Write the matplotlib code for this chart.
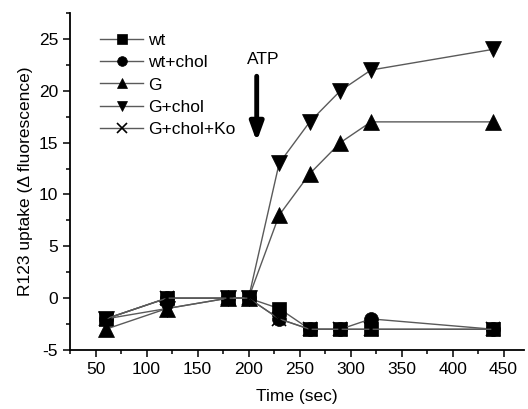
import matplotlib
matplotlib.use("Agg")
import matplotlib.pyplot as plt
from matplotlib.ticker import MultipleLocator

plt.rcParams['font.family'] = ['Liberation Sans', 'DejaVu Sans']
plt.rcParams['axes.unicode_minus'] = False

time = [60, 120, 180, 200, 230, 260, 290, 320, 440]
wt = [-2, 0, 0, 0, -1, -3, -3, -3, -3]
wt_chol = [-2, 0, 0, 0, -2, -3, -3, -2, -3]
g = [-3, -1, 0, 0, 8, 12, 15, 17, 17]
g_chol = [-2, -1, 0, 0, 13, 17, 20, 22, 24]
g_chol_ko = [-2, 0, 0, 0, -2, -3, -3, -3, -3]

labels = ["wt", "wt+chol", "G", "G+chol", "G+chol+Ko"]
series = [wt, wt_chol, g, g_chol, g_chol_ko]
markers = ["s", "o", "^", "v", "x"]
sizes = [10, 10, 11, 11, 10]

FS = 12.5
fig = plt.figure(figsize=(5.28, 4.09), dpi=100)
ax = fig.add_axes([70/528, 1-350/409, (524-70)/528, (350-13)/409])

for lab, ys, m, ms in zip(labels, series, markers, sizes):
    ax.plot(time, ys, color="#5a5a5a", lw=1.0, marker=m, ms=ms,
            mfc="black", mec="black", mew=1.2 if m == "x" else 0.5, label=lab)

ax.set_xlim(25, 470)
ax.set_ylim(-5, 27.5)
ax.set_xticks(range(50, 451, 50))
ax.xaxis.set_minor_locator(MultipleLocator(25))
ax.yaxis.set_major_locator(MultipleLocator(5))
ax.yaxis.set_minor_locator(MultipleLocator(2.5))
ax.tick_params(direction="out", which="major", length=5, width=1.1, labelsize=FS)
ax.tick_params(direction="out", which="minor", length=3, width=1.1)
for s in ["top", "right"]:
    ax.spines[s].set_visible(False)
for s in ["left", "bottom"]:
    ax.spines[s].set_linewidth(1.3)

ax.set_xlabel("Time (sec)", fontsize=FS, labelpad=9)
ax.set_ylabel("R123 uptake (Δ fluorescence)", fontsize=FS, labelpad=4)

ax.annotate("", xy=(208, 15.1), xytext=(208, 21.4),
            arrowprops=dict(arrowstyle="-|>,head_length=1.1,head_width=0.4",
                            color="black", lw=3.5, shrinkA=0, shrinkB=0))
ax.text(214, 23.0, "ATP", ha="center", va="center", fontsize=FS)

leg = ax.legend(loc="upper left", bbox_to_anchor=(0.066, 0.94), frameon=False,
                fontsize=FS, handlelength=2.5, handletextpad=0.25,
                labelspacing=0.4, borderaxespad=0, borderpad=0, markerscale=0.7)

fig.savefig("out.png", dpi=100)
